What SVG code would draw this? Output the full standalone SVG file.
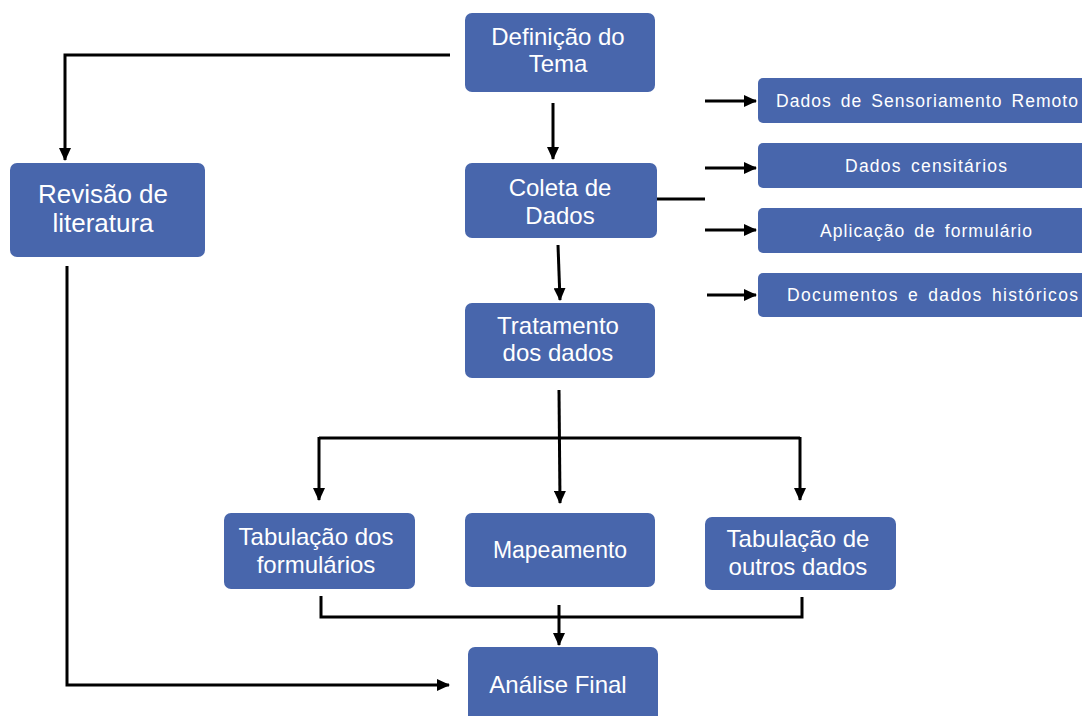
<svg xmlns="http://www.w3.org/2000/svg" width="1082" height="716" viewBox="0 0 1082 716">
<defs>
<marker id="ah" markerUnits="userSpaceOnUse" markerWidth="14" markerHeight="12" refX="12" refY="6" orient="auto">
<path d="M0,0 L13,6 L0,12 Z" fill="#000"/>
</marker>
<style>
.box{fill:#4866AC;}
.t{font-family:"Liberation Sans",Arial,sans-serif;fill:#fff;text-anchor:middle;}
.big{font-size:24px;}
.small{font-size:17.5px;text-anchor:start;word-spacing:3px;}
.c{fill:none;stroke:#000;stroke-width:3;}
.a{fill:none;stroke:#000;stroke-width:3;marker-end:url(#ah);}
</style>
</defs>
<rect width="1082" height="716" fill="#fff"/>
<g id="connectors">
<path class="a" d="M450,55 H65 V160"/>
<path class="a" d="M553,103 V159"/>
<path class="a" d="M558,245 L560,300"/>
<path class="c" d="M657,199 H705"/>
<path class="a" d="M705,101 H756"/>
<path class="a" d="M705,168 H756"/>
<path class="a" d="M705,230 H756"/>
<path class="a" d="M707,295 H756"/>
<path class="a" d="M559,390 L560,503"/>
<path class="c" d="M319,438 H800"/>
<path class="a" d="M319,437 V500"/>
<path class="a" d="M800,437 V500"/>
<path class="c" d="M321,596 V617 H802 V597"/>
<path class="a" d="M559,605 V645"/>
<path class="a" d="M67,266 V685 H449"/>
</g>
<g id="n-definicao">
<rect class="box" x="465" y="13" width="190" height="79" rx="7"/>
<text class="t big" x="558" y="45">Definição do</text>
<text class="t big" x="558" y="72">Tema</text>
</g>
<g id="n-revisao">
<rect class="box" x="10" y="163" width="195" height="94" rx="7"/>
<text class="t" style="font-size:26px" x="103" y="203">Revisão de</text>
<text class="t" style="font-size:26px" x="103" y="232">literatura</text>
</g>
<g id="n-coleta">
<rect class="box" x="465" y="163" width="192" height="75" rx="7"/>
<text class="t big" x="560" y="196">Coleta de</text>
<text class="t big" x="560" y="224">Dados</text>
</g>
<g id="n-tratamento">
<rect class="box" x="465" y="303" width="190" height="75" rx="7"/>
<text class="t big" x="558" y="334">Tratamento</text>
<text class="t big" x="558" y="361">dos dados</text>
</g>
<g id="n-sensoriamento">
<rect class="box" x="758" y="78" width="330" height="45" rx="5"/>
<text class="t small" x="776" y="107" textLength="302" lengthAdjust="spacing">Dados de Sensoriamento Remoto</text>
</g>
<g id="n-censitarios">
<rect class="box" x="758" y="143" width="330" height="45" rx="5"/>
<text class="t small" x="845" y="172" textLength="162" lengthAdjust="spacing">Dados censitários</text>
</g>
<g id="n-formulario">
<rect class="box" x="758" y="208" width="330" height="45" rx="5"/>
<text class="t small" x="820" y="237" textLength="212" lengthAdjust="spacing">Aplicação de formulário</text>
</g>
<g id="n-documentos">
<rect class="box" x="758" y="273" width="330" height="44" rx="5"/>
<text class="t small" x="787" y="301" textLength="291" lengthAdjust="spacing">Documentos e dados históricos</text>
</g>
<g id="n-tab-formularios">
<rect class="box" x="224" y="513" width="191" height="76" rx="7"/>
<text class="t big" x="316" y="545">Tabulação dos</text>
<text class="t big" x="316" y="573">formulários</text>
</g>
<g id="n-mapeamento">
<rect class="box" x="465" y="513" width="190" height="74" rx="7"/>
<text class="t" style="font-size:23px" x="560" y="558">Mapeamento</text>
</g>
<g id="n-tab-outros">
<rect class="box" x="705" y="517" width="191" height="73" rx="7"/>
<text class="t big" x="798" y="547">Tabulação de</text>
<text class="t big" x="798" y="575">outros dados</text>
</g>
<g id="n-analise">
<rect class="box" x="468" y="647" width="190" height="80" rx="7"/>
<text class="t big" x="558" y="693">Análise Final</text>
</g>
</svg>
